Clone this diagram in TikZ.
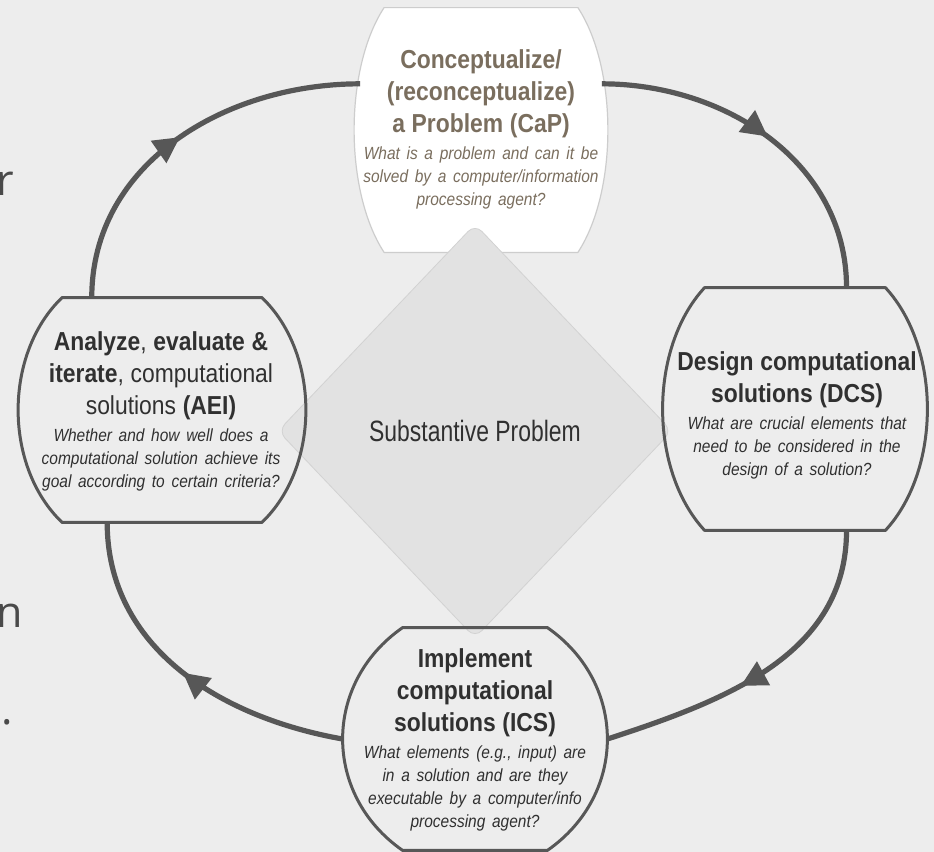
\documentclass[tikz,border=0pt]{standalone}
\usepackage{fontspec}
\setmainfont{Liberation Sans}[FakeStretch=0.88]
\newfontfamily\midfont{Liberation Sans}[FakeStretch=0.78]
\newfontfamily\slidefont{Open Sans}
\usetikzlibrary{calc, shapes.geometric, arrows.meta, decorations.markings}

\definecolor{bggray}{HTML}{EDEDED}
\definecolor{loopgray}{HTML}{575757}
\definecolor{capbrown}{HTML}{7A6E5E}
\definecolor{capline}{HTML}{CDCDCD}
\definecolor{diafill}{HTML}{E2E2E2}
\definecolor{dialine}{HTML}{D2D2D2}
\definecolor{textdark}{HTML}{303030}
\definecolor{fraggray}{HTML}{4A4A4A}

\newcommand{\ttl}{\fontsize{13}{16}\selectfont}
\newcommand{\sub}{\fontsize{8.8}{11.5}\selectfont\itshape}

% outline with flat top and bottom and bulging sides, drawn round a node
\newcommand{\barrel}[3][]{%
  \draw[phaseline, #1] let \p1=(#2.north west), \p2=(#2.south east) in
    (\x1+#3,\y1) -- (\x2-#3,\y1)
    .. controls (\x2+0.333*#3,{\y1-0.25*(\y1-\y2)}) and (\x2+0.333*#3,{\y2+0.25*(\y1-\y2)}) .. (\x2-#3,\y2)
    -- (\x1+#3,\y2)
    .. controls (\x1-0.333*#3,{\y2+0.25*(\y1-\y2)}) and (\x1-0.333*#3,{\y1-0.25*(\y1-\y2)}) .. cycle;}

\tikzset{
  phase/.style = {rectangle, inner sep=0pt},
  phaseline/.style = {draw=loopgray, line width=1.5pt, line join=round},
  phasetext/.style = {align=center, inner sep=0pt, text=textdark},
  cyclearc/.style = {draw=loopgray, line width=2.6pt, postaction={decorate},
    decoration={markings, mark=at position #1 with {\arrow{Triangle[length=13pt,width=13pt]}}}},
  cyclearc/.default = 0.5,
  fragment/.style = {font=\slidefont\fontsize{21.5}{26}\selectfont, text=fraggray, inner sep=0pt}
}

\begin{document}
\begin{tikzpicture}[x=0.5pt, y=0.5pt]
  \useasboundingbox (0,0) rectangle (934,-852);
  \fill[bggray] (0,0) rectangle (934,-852);

  % problem conception, drawn under the diamond
  \node[phase, minimum width=126.5pt, minimum height=122pt] (cap) at (481,-130) {};
  \barrel[fill=white, draw=capline, line width=0.6pt]{cap}{15pt}
  \node[phasetext, text=capbrown, text width=124pt] (capText) at (481,-129)
    {{\ttl\bfseries Conceptualize/\\(reconceptualize)\\a Problem (CaP)\par}\vspace{2pt}%
     {\sub What is a problem and can it be\\solved by a computer/information\\processing agent?\par}};

  \node[diamond, fill=diafill, draw=dialine, line width=0.4pt, rounded corners=5pt,
        minimum width=197pt, minimum height=207pt, text=textdark,
        font=\midfont\fontsize{14.7}{17}\selectfont] (sp) at (475,-431) {Substantive Problem};

  \node[phase, minimum width=143.5pt, minimum height=112pt] (aei) at (162,-410) {};
  \barrel{aei}{22pt}
  \node[phasetext, text width=140pt] (aeiText) at (161,-411)
    {{\ttl\textbf{Analyze}, \textbf{evaluate \&}\\\textbf{iterate}, computational\\solutions \textbf{(AEI)}\par}\vspace{2pt}%
     {\sub Whether and how well does a\\computational solution achieve its\\goal according to certain criteria?\par}};

  \node[phase, minimum width=132pt, minimum height=121pt] (dcs) at (795,-409) {};
  \barrel{dcs}{21pt}
  \node[phasetext, text width=130pt] (dcsText) at (797,-415)
    {{\ttl\bfseries Design computational\\solutions (DCS)\par}\vspace{2pt}%
     {\sub What are crucial elements that\\need to be considered in the\\design of a solution?\par}};

  \node[phase, minimum width=132pt, minimum height=111pt] (ics) at (475,-739) {};
  \barrel{ics}{30pt}
  \node[phasetext, text width=130pt] (icsText) at (475,-740)
    {{\ttl\bfseries Implement\\computational\\solutions (ICS)\par}\vspace{2pt}%
     {\sub What elements (e.g., input) are\\in a solution and are they\\executable by a computer/info\\processing agent?\par}};

  % the loop
  \draw[cyclearc] (aei.122) to[out=90, in=180] ([xshift=3pt]cap.160);
  \draw[cyclearc] ([xshift=-3pt]cap.20) to[out=0, in=90] (dcs.67);
  \draw[cyclearc=0.58] (dcs.293) to[out=-90, in=18] (ics.east);
  \draw[cyclearc] (ics.west) to[out=170, in=-90] (aei.244);

  % cut off slide text at the left edge
  \node[fragment, anchor=base west] (fragR) at (-4,-195) {r};
  \node[fragment, anchor=base west] (fragN) at (-4,-627) {n};
  \node[fragment, anchor=base east] (fragDot) at (13,-724) {).};
\end{tikzpicture}
\end{document}
